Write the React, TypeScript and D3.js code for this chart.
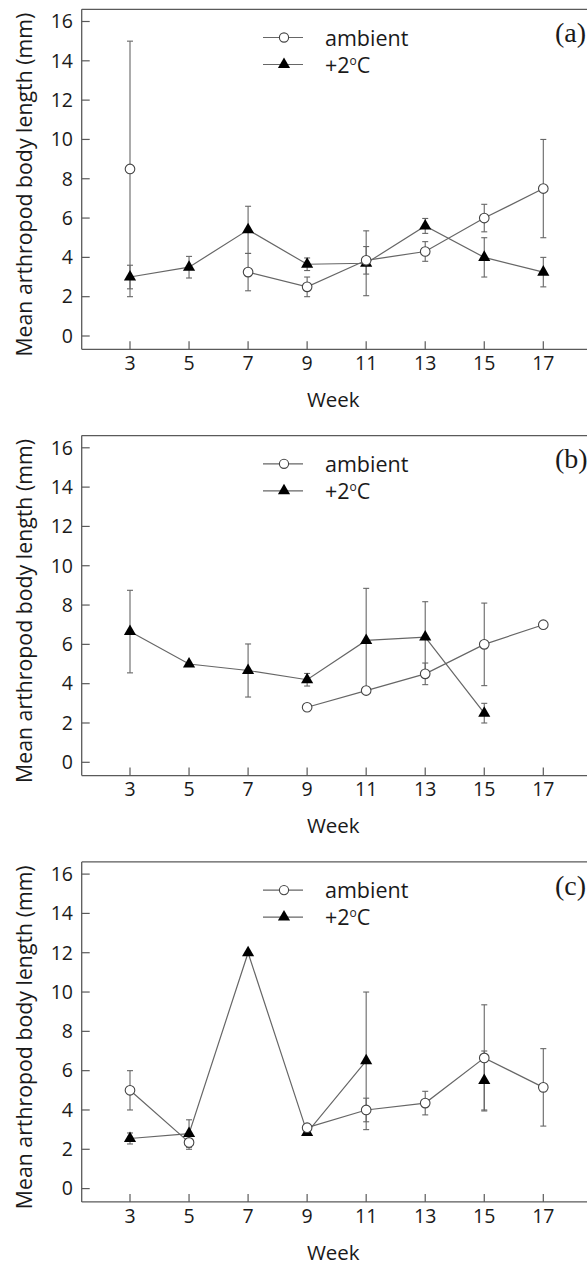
import React from 'react';
import * as d3 from 'd3';

// ---- data ----
const weeks = [3, 5, 7, 9, 11, 13, 15, 17];
const yTicks = [0, 2, 4, 6, 8, 10, 12, 14, 16];
const panelLabels = ['(a)', '(b)', '(c)'];
const seriesNames = ['ambient', '+2'];

const ambientA = [8.5, null, 3.25, 2.5, 3.85, 4.3, 6.0, 7.5];
const ambientErrA = [6.5, null, 0.95, 0.5, 0.7, 0.5, 0.7, 2.5];
const warmA = [3.0, 3.5, 5.4, 3.65, 3.7, 5.6, 4.0, 3.25];
const warmErrA = [0.6, 0.55, 1.2, 0.32, 1.65, 0.38, 1.0, 0.75];

const ambientB = [null, null, null, 2.8, 3.65, 4.5, 6.0, 7.0];
const ambientErrB = [null, null, null, 0, 0, 0.55, 2.1, 0];
const warmB = [6.65, 5.0, 4.67, 4.2, 6.2, 6.37, 2.5, null];
const warmErrB = [2.1, 0, 1.35, 0.32, 2.65, 1.8, 0.5, null];

const ambientC = [5.0, 2.35, null, 3.1, 4.0, 4.35, 6.65, 5.15];
const ambientErrC = [1.0, 0.35, null, 0, 0.6, 0.6, 2.7, 1.97];
const warmC = [2.55, 2.8, 12.0, 2.85, 6.5, null, 5.5, null];
const warmErrC = [0.28, 0.7, 0, 0, 3.5, null, 1.5, null];

const panels = [
  { label: panelLabels[0], amb: ambientA, ambErr: ambientErrA, warm: warmA, warmErr: warmErrA },
  { label: panelLabels[1], amb: ambientB, ambErr: ambientErrB, warm: warmB, warmErr: warmErrB },
  { label: panelLabels[2], amb: ambientC, ambErr: ambientErrC, warm: warmC, warmErr: warmErrC },
];

// ---- layout ----
const W = 587;
const H = 1265;
const PANEL_STEP = 426.3;
const AXIS_X = 81.7;
const FRAME_TOP = 9.3;
const AXIS_BOTTOM = 349.3;
const SANS = "'Open Sans', 'Noto Sans', sans-serif";
const SERIF = "'Liberation Serif', 'Times New Roman', serif";
const AXIS_COLOR = '#5a5a5a';
const LINE_COLOR = '#666';
const TEXT_COLOR = '#1a1a1a';

const x = d3.scaleLinear().domain([3, 17]).range([130, 543.3]);
const y = d3.scaleLinear().domain([0, 16]).range([336, 21.5]);

const triPath = d3.symbol(d3.symbolTriangle, 64)();

type Pt = { w: number; v: number | null; e: number | null };

function toPts(vals: (number | null)[], errs: (number | null)[]): Pt[] {
  return weeks.map((w, i) => ({ w, v: vals[i], e: errs[i] }));
}

const lineGen = d3
  .line<Pt>()
  .defined((d) => d.v != null)
  .x((d) => x(d.w))
  .y((d) => y(d.v as number));

function ErrorBars({ pts }: { pts: Pt[] }) {
  return (
    <g stroke={LINE_COLOR} strokeWidth={1.1}>
      {pts
        .filter((d) => d.v != null && d.e != null && (d.e as number) > 0)
        .map((d, i) => {
          const cx = x(d.w);
          const y1 = y((d.v as number) + (d.e as number));
          const y2 = y((d.v as number) - (d.e as number));
          return (
            <g key={i}>
              <line x1={cx} x2={cx} y1={y1} y2={y2} />
              <line x1={cx - 3} x2={cx + 3} y1={y1} y2={y1} />
              <line x1={cx - 3} x2={cx + 3} y1={y2} y2={y2} />
            </g>
          );
        })}
    </g>
  );
}

function Panel({ idx }: { idx: number }) {
  const p = panels[idx];
  const amb = toPts(p.amb, p.ambErr);
  const warm = toPts(p.warm, p.warmErr);
  const legX1 = 263;
  const legX2 = 303;
  const legM = 284;
  const row1 = 37.5;
  const row2 = 64.5;
  return (
    <g transform={`translate(0, ${idx * PANEL_STEP})`}>
      {/* frame */}
      <g stroke={AXIS_COLOR} strokeWidth={1.3} fill="none">
        <line x1={AXIS_X} x2={W + 20} y1={FRAME_TOP} y2={FRAME_TOP} />
        <line x1={AXIS_X} x2={W + 20} y1={AXIS_BOTTOM} y2={AXIS_BOTTOM} />
        <line x1={AXIS_X} x2={AXIS_X} y1={FRAME_TOP} y2={AXIS_BOTTOM} />
      </g>
      {/* y ticks */}
      <g>
        {yTicks.map((t) => (
          <g key={t}>
            <line x1={AXIS_X} x2={AXIS_X + 8} y1={y(t)} y2={y(t)} stroke={AXIS_COLOR} strokeWidth={1.2} />
            <text x={73} y={y(t) + 6.8} textAnchor="end" fontFamily={SANS} fontSize={19.5} fill={TEXT_COLOR}>
              {t}
            </text>
          </g>
        ))}
      </g>
      {/* x ticks */}
      <g>
        {weeks.map((w) => (
          <g key={w}>
            <line x1={x(w)} x2={x(w)} y1={AXIS_BOTTOM} y2={AXIS_BOTTOM - 8} stroke={AXIS_COLOR} strokeWidth={1.2} />
            <text x={x(w)} y={370} textAnchor="middle" fontFamily={SANS} fontSize={19.5} fill={TEXT_COLOR}>
              {w}
            </text>
          </g>
        ))}
      </g>
      {/* axis titles */}
      <text x={333.3} y={407} textAnchor="middle" fontFamily={SANS} fontSize={20.5} fill={TEXT_COLOR}>
        Week
      </text>
      <text
        transform={`translate(31.7, 184.7) rotate(-90)`}
        textAnchor="middle"
        fontFamily={SANS}
        fontSize={21.3}
        fill={TEXT_COLOR}
      >
        Mean arthropod body length (mm)
      </text>
      {/* panel label */}
      <text x={555} y={42} fontFamily={SERIF} fontSize={28} fill={TEXT_COLOR}>
        {p.label}
      </text>
      {/* legend */}
      <g>
        <line x1={legX1} x2={legX2} y1={row1} y2={row1} stroke={LINE_COLOR} strokeWidth={1.2} />
        <circle cx={legM} cy={row1} r={4.6} fill="#fff" stroke="#444" strokeWidth={1.1} />
        <text x={325} y={row1 + 8} fontFamily={SANS} fontSize={21.5} fill={TEXT_COLOR}>
          {seriesNames[0]}
        </text>
        <line x1={legX1} x2={legX2} y1={row2} y2={row2} stroke={LINE_COLOR} strokeWidth={1.2} />
        <path d={triPath as string} transform={`translate(${legM}, ${row2})`} fill="#000" />
        <text x={325} y={row2 + 8} fontFamily={SANS} fontSize={21.5} fill={TEXT_COLOR}>
          {seriesNames[1]}
          <tspan fontSize={12} dy={-8}>o</tspan>
          <tspan dy={8}>C</tspan>
        </text>
      </g>
      {/* error bars */}
      <ErrorBars pts={warm} />
      <ErrorBars pts={amb} />
      {/* lines */}
      <path d={lineGen(warm) as string} fill="none" stroke={LINE_COLOR} strokeWidth={1.2} />
      <path d={lineGen(amb) as string} fill="none" stroke={LINE_COLOR} strokeWidth={1.2} />
      {/* markers */}
      {warm
        .filter((d) => d.v != null)
        .map((d) => (
          <path key={`t${d.w}`} d={triPath as string} transform={`translate(${x(d.w)}, ${y(d.v as number)})`} fill="#000" />
        ))}
      {amb
        .filter((d) => d.v != null)
        .map((d) => (
          <circle key={`c${d.w}`} cx={x(d.w)} cy={y(d.v as number)} r={4.8} fill="#fff" stroke="#444" strokeWidth={1.1} />
        ))}
    </g>
  );
}

export default function App() {
  return (
    <svg
      width={W}
      height={H}
      viewBox={`0 0 ${W} ${H}`}
      style={{ position: 'absolute', left: 0, top: 0, background: '#fff', display: 'block' }}
    >
      <rect x={0} y={0} width={W} height={H} fill="#fff" />
      {panels.map((_, i) => (
        <Panel key={i} idx={i} />
      ))}
    </svg>
  );
}
